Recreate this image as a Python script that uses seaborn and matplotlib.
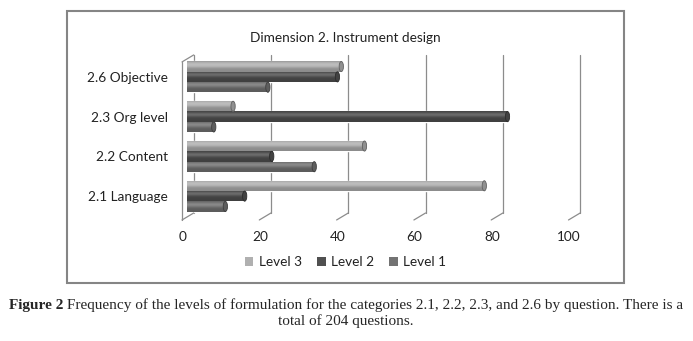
import numpy as np
import pandas as pd
import matplotlib
matplotlib.use('Agg')
import matplotlib.pyplot as plt
import seaborn as sns
from matplotlib.patches import Ellipse, Patch, Rectangle
from matplotlib.transforms import ScaledTranslation
from matplotlib.colors import to_rgb

# values
categories = ['2.6 Objective', '2.3 Org level', '2.2 Content', '2.1 Language']
levels = ['Level 3', 'Level 2', 'Level 1']
level3 = [40, 12, 46, 77]
level2 = [39, 83, 22, 15]
level1 = [21, 7, 33, 10]
x_ticks = [0, 20, 40, 60, 80, 100]

palette = {'Level 3': '#b0b0b0', 'Level 2': '#505050', 'Level 1': '#737373'}
text_col = '#222222'
fs = 9.8

df = pd.DataFrame({
    'Category': categories * 3,
    'Level': np.repeat(levels, len(categories)),
    'Count': level3 + level2 + level1,
})

sns.set_style('white')
plt.rcParams['font.family'] = ['Lato', 'DejaVu Sans']

W, H = 693, 341
fig = plt.figure(figsize=(W / 100, H / 100), dpi=100)
ax = fig.add_axes([186.7 / W, 1 - 216 / H, 386.5 / W, 159 / H])
sns.barplot(data=df, y='Category', x='Count', hue='Level', order=categories,
            hue_order=levels, palette=palette, width=0.78, orient='h',
            errorbar=None, ax=ax)
ax.get_legend().remove()

ax.set_xticks(x_ticks)
ax.set_xlabel('')
ax.set_ylabel('')
for s in ax.spines.values():
    s.set_visible(False)
ax.tick_params(axis='y', length=0, pad=13.5, labelsize=fs, labelcolor=text_col)
ax.tick_params(axis='x', length=0, pad=11, labelsize=fs, labelcolor=text_col)

px = 1 / fig.dpi
front = ScaledTranslation(-4.7 * px, 0, fig.dpi_scale_trans)
back = ScaledTranslation(7 * px, 0, fig.dpi_scale_trans)
for lab in ax.get_xticklabels():
    lab.set_transform(lab.get_transform() + ScaledTranslation(-4 * px, 0, fig.dpi_scale_trans))

# 3d-style walls: back gridlines, floor diagonals and the left side wall
xt = ax.get_xaxis_transform()
grid_kw = dict(color='#8c8c8c', lw=0.9, zorder=0.5, clip_on=False)


def wall_line(p, q):
    # p, q are (x data, y axes, offset transform)
    a = (xt + p[2]).transform(p[:2])
    b = (xt + q[2]).transform(q[:2])
    fig.add_artist(plt.Line2D([a[0] / W, b[0] / W], [a[1] / H, b[1] / H],
                              transform=fig.transFigure, color='#8c8c8c', lw=0.9))


for v in x_ticks:
    ax.plot([v, v], [0.019, 1.013], transform=xt + back, **grid_kw)
    wall_line((v, 0.019, back), (v, -0.025, front))
ax.plot([0, 0], [-0.025, 0.969], transform=xt + front, **grid_kw)
wall_line((0, 0.969, front), (0, 1.013, back))

# cylinder-like shading for each bar
t = np.linspace(0, 1, 24)
shade = 0.8 + 0.4 * np.exp(-((t - 0.32) / 0.25) ** 2)
bars = [p for p in ax.patches if isinstance(p, Rectangle) and p.get_width() > 0]
for p in bars:
    base = np.array(to_rgb(p.get_facecolor()))
    rows = [base * f if f <= 1 else base + (1 - base) * (f - 1) * 0.8 for f in shade]
    img = np.array(rows).reshape(-1, 1, 3)
    x0, y0, w, h = p.get_x(), p.get_y(), p.get_width(), p.get_height()
    im = ax.imshow(img, extent=[x0, x0 + w, y0 + h, y0], origin='upper',
                   aspect='auto', interpolation='bilinear', zorder=2)
    im.set_clip_path(p)
    cap = Ellipse((x0 + w, y0 + h / 2), 1.1, h * 0.98, facecolor=base * 0.82,
                  edgecolor=base * 0.55, lw=0.6, zorder=2.5)
    ax.add_patch(cap)
ax.set_xlim(0, 100)
ax.set_ylim(len(categories) - 0.5, -0.5)

fig.text(345.5 / W, 1 - 38 / H, 'Dimension 2. Instrument design', ha='center',
         va='center', fontsize=fs, color=text_col)

handles = [Patch(facecolor=palette[l], edgecolor='none') for l in levels]
fig.legend(handles, levels, loc='center', bbox_to_anchor=(345.5 / W, 1 - 262 / H),
           ncol=3, frameon=False, handlelength=0.65, handleheight=0.65,
           handletextpad=0.4, columnspacing=1.1, fontsize=fs, labelcolor=text_col)

# chart border
fig.add_artist(Rectangle((67.3 / W, 1 - 283 / H), (624 - 67.3) / W, (283 - 10.7) / H,
                         transform=fig.transFigure, fill=False, edgecolor='#858585', lw=1.5))

# caption: bold lead-in followed by regular text
serif = ['Liberation Serif', 'DejaVu Serif']
cap_fs = 11
renderer = fig.canvas.get_renderer()
lead = fig.text(0, 1 - 305 / H, 'Figure 2', fontsize=cap_fs, fontweight='bold',
                family=serif, va='center')
rest = fig.text(0, 1 - 305 / H, ' Frequency of the levels of formulation for the categories '
                '2.1, 2.2, 2.3, and 2.6 by question. There is a',
                fontsize=cap_fs, family=serif, va='center')
w1 = lead.get_window_extent(renderer).width
w2 = rest.get_window_extent(renderer).width
start = 346 - (w1 + w2) / 2
lead.set_x(start / W)
rest.set_x((start + w1) / W)
fig.text(346 / W, 1 - 321 / H, 'total of 204 questions.', fontsize=cap_fs,
         family=serif, ha='center', va='center')

fig.savefig('out.png', dpi=100)
